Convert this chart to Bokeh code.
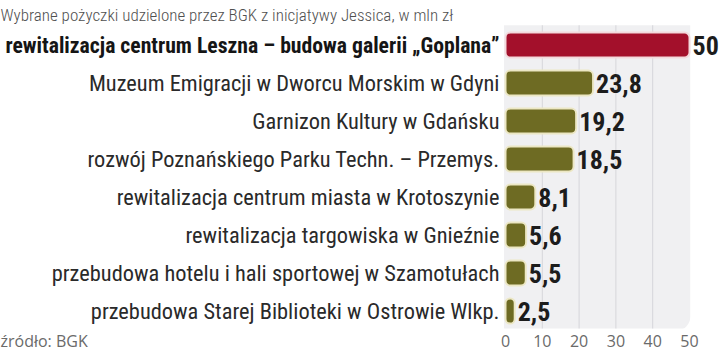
from bokeh.plotting import figure
from bokeh.models import Range1d, FixedTicker, Label, ColumnDataSource
from bokeh.core.properties import value
from bokeh.embed import file_html
from bokeh.resources import INLINE

title = "Wybrane pożyczki udzielone przez BGK z inicjatywy Jessica, w mln zł"
source_note = "źródło: BGK"
categories = [
    "rewitalizacja centrum Leszna – budowa galerii „Goplana”",
    "Muzeum Emigracji w Dworcu Morskim w Gdyni",
    "Garnizon Kultury w Gdańsku",
    "rozwój Poznańskiego Parku Techn. – Przemys.",
    "rewitalizacja centrum miasta w Krotoszynie",
    "rewitalizacja targowiska w Gnieźnie",
    "przebudowa hotelu i hali sportowej w Szamotułach",
    "przebudowa Starej Biblioteki w Ostrowie Wlkp.",
]
values = [50, 23.8, 19.2, 18.5, 8.1, 5.6, 5.5, 2.5]
value_labels = ["50", "23,8", "19,2", "18,5", "8,1", "5,6", "5,5", "2,5"]
ticks = [0, 10, 20, 30, 40, 50]
grid_ticks = [10, 20, 30, 40]

RED = "#a3102b"
OLIVE = "#6e6b23"
COND = "Roboto Condensed"

n = len(categories)
rows = list(range(n))
colors = [RED] + [OLIVE] * (n - 1)
borders = ["#f3d9dc"] + ["#ece7c4"] * (n - 1)

FW, FH = 720, 328
x0_px, x50_px = 505, 689
ppu = (x50_px - x0_px) / 50.0
xs = -x0_px / ppu
xe = 50 + (FW - x50_px) / ppu
pitch = 38.0
row0 = 44.5
ytop = -row0 / pitch
ybot = (FH - row0) / pitch
foot_x = -126.5

p = figure(frame_width=FW, frame_height=FH, output_backend="svg", toolbar_location=None,
           x_range=Range1d(xs, xe), y_range=Range1d(ybot, ytop), min_border=0)
p.outline_line_color = None
p.background_fill_color = "white"
p.border_fill_color = "white"
p.yaxis.visible = False
p.xgrid.visible = False
p.ygrid.visible = False
ax = p.xaxis[0]
ax.ticker = FixedTicker(ticks=[foot_x] + ticks)
ax.major_label_overrides = {foot_x: source_note}
ax.axis_line_color = None
ax.major_tick_line_color = None
ax.minor_tick_line_color = None
ax.major_tick_in = 0
ax.major_tick_out = 0
ax.minor_tick_in = 0
ax.minor_tick_out = 0
ax.major_label_text_font = "Open Sans"
ax.major_label_text_font_size = "16px"
ax.major_label_text_color = "#6a6a6a"
ax.major_label_standoff = 1

p.quad(left=[-0.4], right=[50.2], top=[-0.52], bottom=[n - 1 + 0.52], fill_color="#f0f0f2",
       line_color=None, border_radius=(0, 0, 14, 0))
p.segment(x0=grid_ticks, x1=grid_ticks, y0=[-0.52] * 4, y1=[n - 1 + 0.52] * 4,
          line_color="#d6d6da", line_width=1)

src = ColumnDataSource(dict(y=rows, v=values, c=colors, b=borders, lab=value_labels))
p.hbar(y="y", left=0, right="v", height=0.66, fill_color="c", line_color="b", line_width=2,
       border_radius=5, source=src)
p.text(x="v", y="y", text="lab", x_offset=3, text_baseline="middle", text_align="left",
       text_font=value(COND), text_font_style="bold", text_font_size="26px",
       text_color="#1c1c1c", source=src)

src_first = ColumnDataSource(dict(y=rows[:1], cat=categories[:1]))
src_rest = ColumnDataSource(dict(y=rows[1:], cat=categories[1:]))
p.text(x=0, y="y", text="cat", x_offset=-6, text_align="right", text_baseline="middle",
       text_font=value(COND), text_font_style="bold", text_font_size="21.7px",
       text_color="#151515", source=src_first)
p.text(x=0, y="y", text="cat", x_offset=-6, text_align="right", text_baseline="middle",
       text_font=value(COND), text_font_size="22.4px", text_color="#2a2a2a", source=src_rest)

p.add_layout(Label(x=xs, y=ytop + 14 / pitch, text=title, text_baseline="middle",
                   text_font="Roboto Condensed Light", text_font_size="17px", text_color="#505050"))

open("out.html", "w").write(file_html(p, INLINE))
